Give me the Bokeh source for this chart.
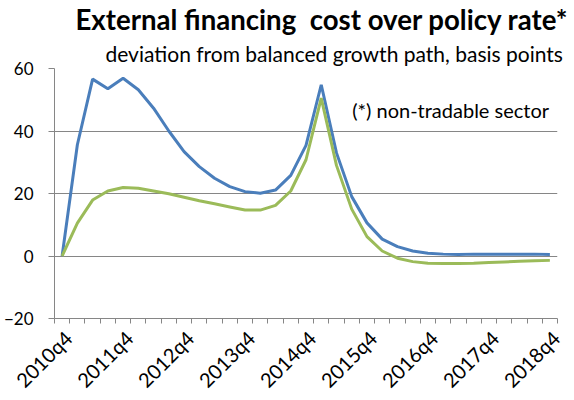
from bokeh.plotting import figure
from bokeh.models import FixedTicker, Range1d, Label, Title
from bokeh.embed import file_html
from bokeh.resources import INLINE

# quarters 2010q4 .. 2018q4 (index 0..32)
quarters = [f"{y}q{q}" for y in range(2010, 2019) for q in range(1, 5)][3:]
tick_labels = ["2010q4", "2011q4", "2012q4", "2013q4", "2014q4",
               "2015q4", "2016q4", "2017q4", "2018q4"]

blue = [0, 35.6, 56.6, 53.5, 56.9, 53.2, 47.3, 40.0, 33.4, 28.6,
        24.9, 22.2, 20.6, 20.1, 21.1, 25.8, 35.4, 54.8, 33.0, 19.0,
        10.6, 5.4, 3.0, 1.6, 0.9, 0.6, 0.5, 0.6, 0.6, 0.6,
        0.6, 0.6, 0.5]
green = [0, 10.5, 17.9, 20.8, 21.9, 21.7, 20.8, 19.9, 18.8, 17.7,
         16.7, 15.7, 14.7, 14.7, 16.2, 20.8, 30.8, 50.5, 29.0, 15.0,
         6.2, 1.6, -0.7, -1.8, -2.3, -2.4, -2.4, -2.3, -2.1, -1.9,
         -1.7, -1.5, -1.4]

FONT = "Lato"
GRID = "#868686"

x = list(range(len(quarters)))

p = figure(frame_width=503, frame_height=250,
           x_range=Range1d(-0.5, len(quarters) - 0.5),
           y_range=Range1d(-20, 60),
           output_backend="svg", toolbar_location=None,
           min_border_left=52, min_border_right=11,
           min_border_top=66, min_border_bottom=0)
p.outline_line_color = None
p.background_fill_color = "white"

p.title.text = "External financing\u00a0 cost over policy rate*"
p.title.text_font = FONT
p.title.text_font_style = "bold"
p.title.text_font_size = "27.6px"
p.title.text_color = "black"
p.title.align = "left"
p.title.offset = 21
p.title.standoff = 0
sub = Title(text="deviation from balanced growth path, basis points",
            text_font=FONT, text_font_style="normal", text_font_size="21px",
            text_color="black", align="left", offset=51, standoff=6)
p.add_layout(sub, "above")

# x axis: labels at yearly q4, small ticks on category boundaries
label_shift = 0.4
major = [quarters.index(t) + label_shift for t in tick_labels]
p.xaxis.ticker = FixedTicker(ticks=major,
                             minor_ticks=[i - 0.5 for i in range(len(quarters) + 1)])
p.xaxis.major_label_overrides = {m: t for m, t in zip(major, tick_labels)}
p.xaxis.major_label_orientation = 0.785
p.xaxis.major_tick_line_color = None
p.xaxis.minor_tick_line_color = GRID
p.xaxis.minor_tick_in = 0
p.xaxis.minor_tick_out = 5
p.xaxis.axis_line_color = GRID
p.xaxis.major_label_text_font = FONT
p.xaxis.major_label_text_font_size = "20px"
p.xaxis.major_label_text_color = "black"
p.xaxis.major_label_standoff = 10

p.yaxis.ticker = FixedTicker(ticks=[-20, 0, 20, 40, 60])
p.yaxis.minor_tick_line_color = None
p.yaxis.major_tick_line_color = GRID
p.yaxis.major_tick_in = 0
p.yaxis.major_tick_out = 6
p.yaxis.axis_line_color = GRID
p.yaxis.major_label_text_font = FONT
p.yaxis.major_label_text_font_size = "17px"
p.yaxis.major_label_text_color = "black"
p.yaxis.major_label_standoff = 15

p.xgrid.grid_line_color = None
p.ygrid.grid_line_color = GRID
p.ygrid.grid_line_width = 1

p.line(x, blue, line_color="#4a7ebb", line_width=3)
p.line(x, green, line_color="#9bbb59", line_width=3)

p.add_layout(Label(x=19.03, y=46.8, text="(*) non-tradable sector",
                   text_font=FONT, text_font_size="20px", text_color="black",
                   text_align="left", text_baseline="alphabetic"))

open("out.html", "w").write(file_html(p, INLINE))
